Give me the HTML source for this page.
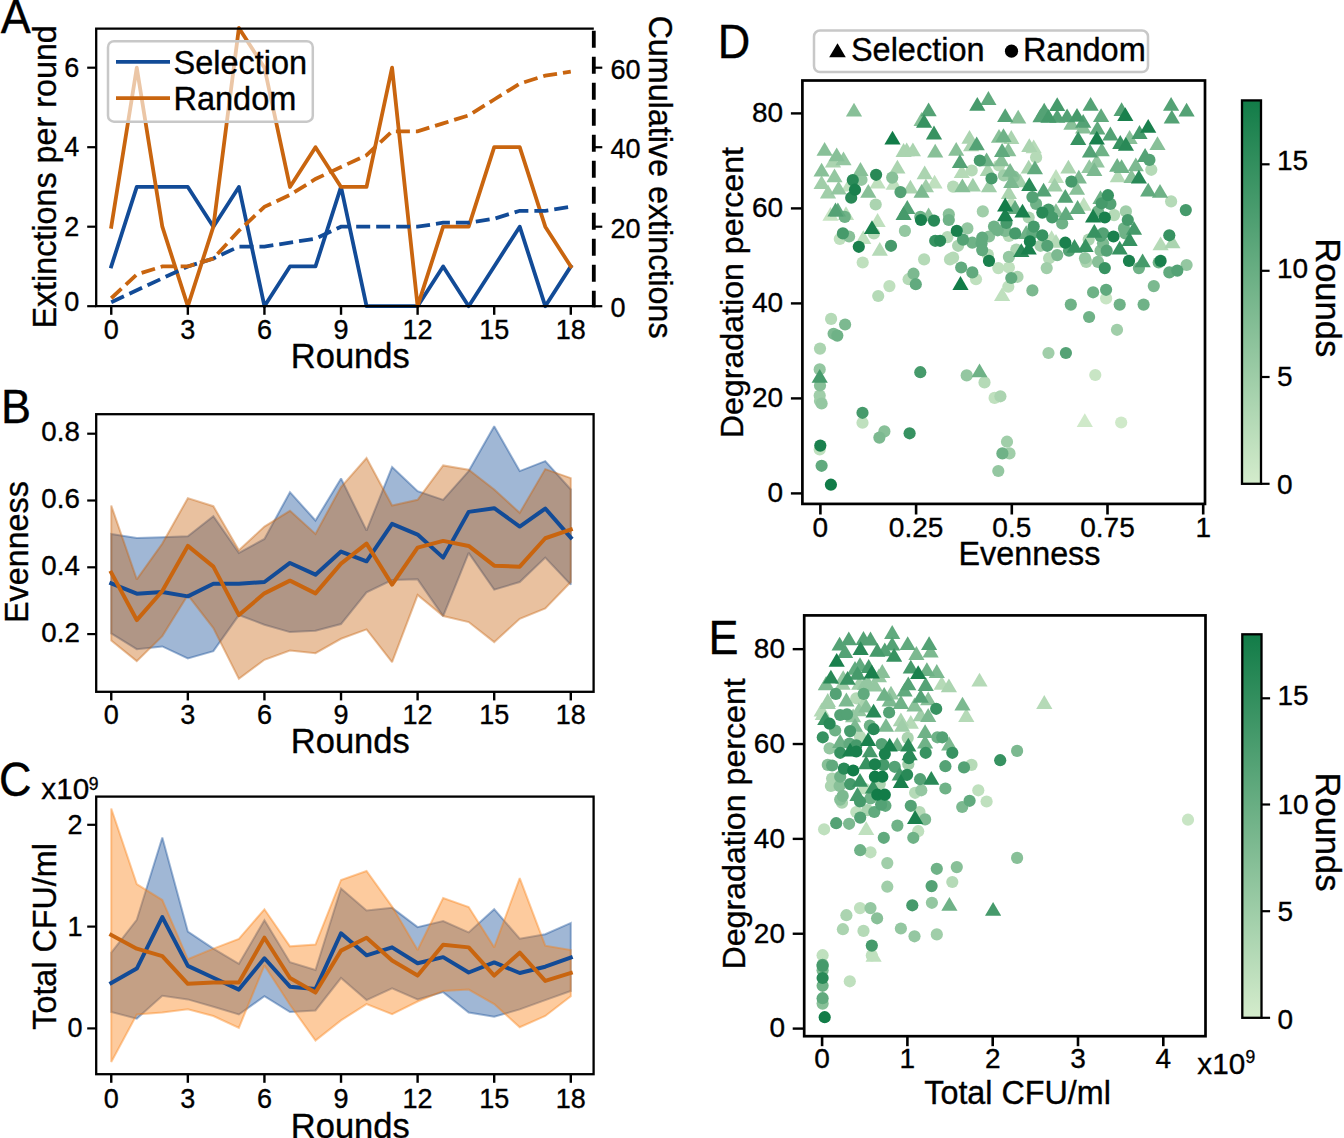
<!DOCTYPE html>
<html><head><meta charset="utf-8"><style>
html,body{margin:0;padding:0;background:#fff;overflow:hidden;}
svg{display:block;}
text{font-family:"Liberation Sans", sans-serif;fill:#000;stroke:#000;stroke-width:0.35px;}
</style></head><body>
<svg width="1344" height="1138" viewBox="0 0 1344 1138">
<rect width="1344" height="1138" fill="#fff"/>
<polyline points="111.25,266.45 136.78,186.95 162.31,186.95 187.84,186.95 213.37,226.70 238.90,186.95 264.43,306.20 289.96,266.45 315.49,266.45 341.02,186.95 366.55,306.20 392.08,306.20 417.61,306.20 443.14,266.45 468.67,306.20 494.20,266.45 519.73,226.70 545.26,306.20 570.79,266.45" fill="none" stroke="#124b97" stroke-width="3.8" stroke-linejoin="round" stroke-linecap="square"/>
<polyline points="111.25,226.70 136.78,67.70 162.31,226.70 187.84,306.20 213.37,226.70 238.90,27.95 264.43,67.70 289.96,186.95 315.49,147.20 341.02,186.95 366.55,186.95 392.08,67.70 417.61,306.20 443.14,226.70 468.67,226.70 494.20,147.20 519.73,147.20 545.26,226.70 570.79,266.45" fill="none" stroke="#c9650f" stroke-width="3.8" stroke-linejoin="round" stroke-linecap="square"/>
<polyline points="111.25,302.22 136.78,290.30 162.31,278.38 187.84,266.45 213.37,258.50 238.90,246.57 264.43,246.57 289.96,242.60 315.49,238.62 341.02,226.70 366.55,226.70 392.08,226.70 417.61,226.70 443.14,222.72 468.67,222.72 494.20,218.75 519.73,210.80 545.26,210.80 570.79,206.82" fill="none" stroke="#124b97" stroke-width="3.8" stroke-dasharray="14 6"/>
<polyline points="111.25,298.25 136.78,274.40 162.31,266.45 187.84,266.45 213.37,258.50 238.90,230.68 264.43,206.82 289.96,194.90 315.49,179.00 341.02,167.07 366.55,155.15 392.08,131.30 417.61,131.30 443.14,123.35 468.67,115.40 494.20,99.50 519.73,83.60 545.26,75.65 570.79,71.67" fill="none" stroke="#c9650f" stroke-width="3.8" stroke-dasharray="14 6"/>
<path d="M96.2,306.2 L96.2,28.7 L593.8,28.7" fill="none" stroke="#000" stroke-width="2.3"/>
<line x1="95.00" y1="306.20" x2="594.80" y2="306.20" stroke="#000" stroke-width="2.3" />
<line x1="593.80" y1="28.70" x2="593.80" y2="307.20" stroke="#000" stroke-width="3.8" stroke-dasharray="17 9" stroke-dashoffset="24"/>
<line x1="87.20" y1="226.70" x2="96.20" y2="226.70" stroke="#000" stroke-width="2.2" />
<text x="79.30" y="235.50" font-size="27" text-anchor="end" >2</text>
<line x1="87.20" y1="147.20" x2="96.20" y2="147.20" stroke="#000" stroke-width="2.2" />
<text x="79.30" y="156.00" font-size="27" text-anchor="end" >4</text>
<line x1="87.20" y1="67.70" x2="96.20" y2="67.70" stroke="#000" stroke-width="2.2" />
<text x="79.30" y="76.50" font-size="27" text-anchor="end" >6</text>
<line x1="87.20" y1="306.20" x2="96.20" y2="306.20" stroke="#000" stroke-width="2.2" />
<text x="79.30" y="311.20" font-size="27" text-anchor="end" >0</text>
<line x1="111.25" y1="306.20" x2="111.25" y2="314.80" stroke="#000" stroke-width="2.4" />
<text x="111.25" y="339.30" font-size="27" text-anchor="middle" >0</text>
<line x1="187.84" y1="306.20" x2="187.84" y2="314.80" stroke="#000" stroke-width="2.4" />
<text x="187.84" y="339.30" font-size="27" text-anchor="middle" >3</text>
<line x1="264.43" y1="306.20" x2="264.43" y2="314.80" stroke="#000" stroke-width="2.4" />
<text x="264.43" y="339.30" font-size="27" text-anchor="middle" >6</text>
<line x1="341.02" y1="306.20" x2="341.02" y2="314.80" stroke="#000" stroke-width="2.4" />
<text x="341.02" y="339.30" font-size="27" text-anchor="middle" >9</text>
<line x1="417.61" y1="306.20" x2="417.61" y2="314.80" stroke="#000" stroke-width="2.4" />
<text x="417.61" y="339.30" font-size="27" text-anchor="middle" >12</text>
<line x1="494.20" y1="306.20" x2="494.20" y2="314.80" stroke="#000" stroke-width="2.4" />
<text x="494.20" y="339.30" font-size="27" text-anchor="middle" >15</text>
<line x1="570.79" y1="306.20" x2="570.79" y2="314.80" stroke="#000" stroke-width="2.4" />
<text x="570.79" y="339.30" font-size="27" text-anchor="middle" >18</text>
<line x1="593.80" y1="306.20" x2="602.30" y2="306.20" stroke="#000" stroke-width="2.2" />
<text x="610.50" y="317.40" font-size="27" text-anchor="start" >0</text>
<line x1="593.80" y1="226.70" x2="602.30" y2="226.70" stroke="#000" stroke-width="2.2" />
<text x="610.50" y="237.90" font-size="27" text-anchor="start" >20</text>
<line x1="593.80" y1="147.20" x2="602.30" y2="147.20" stroke="#000" stroke-width="2.2" />
<text x="610.50" y="158.40" font-size="27" text-anchor="start" >40</text>
<line x1="593.80" y1="67.70" x2="602.30" y2="67.70" stroke="#000" stroke-width="2.2" />
<text x="610.50" y="78.90" font-size="27" text-anchor="start" >60</text>
<text x="350.30" y="368.30" font-size="34.5" text-anchor="middle" >Rounds</text>
<text x="56.40" y="176.90" font-size="32.3" text-anchor="middle" transform="rotate(-90 56.40 176.90)" >Extinctions per round</text>
<text x="649.00" y="177.00" font-size="32.3" text-anchor="middle" transform="rotate(90 649.00 177.00)" >Cumulative extinctions</text>
<rect x="108" y="41.2" width="204.8" height="80.5" rx="6" fill="#fff" fill-opacity="0.63" stroke="#c8c8c8" stroke-width="2.5"/>
<line x1="116.00" y1="61.80" x2="170.00" y2="61.80" stroke="#124b97" stroke-width="3.8" />
<line x1="116.00" y1="98.10" x2="170.00" y2="98.10" stroke="#c9650f" stroke-width="3.8" />
<text x="173.50" y="73.90" font-size="32.5" text-anchor="start" >Selection</text>
<text x="173.50" y="109.90" font-size="32.5" text-anchor="start" >Random</text>
<text x="0" y="0" font-size="45" text-anchor="start" transform="translate(0.70 32.70) scale(1 1.05)">A</text>
<polygon points="111.25,533.90 136.78,537.91 162.31,537.24 187.84,536.24 213.37,516.20 238.90,552.94 264.43,538.91 289.96,492.15 315.49,520.54 341.02,478.46 366.55,530.56 392.08,467.10 417.61,491.15 443.14,499.83 468.67,471.11 494.20,426.35 519.73,471.11 545.26,461.09 570.79,489.48 570.79,584.67 545.26,557.61 519.73,582.00 494.20,589.68 468.67,552.94 443.14,616.06 417.61,579.32 392.08,579.99 366.55,592.35 341.02,624.08 315.49,630.76 289.96,632.10 264.43,624.75 238.90,615.06 213.37,651.13 187.84,658.48 162.31,646.46 136.78,649.13 111.25,633.43" fill="#124b97" fill-opacity="0.4" stroke="#124b97" stroke-opacity="0.4" stroke-width="2.0" stroke-linejoin="miter" stroke-miterlimit="2"/>
<polygon points="111.25,505.51 136.78,579.32 162.31,543.59 187.84,498.16 213.37,506.18 238.90,550.27 264.43,526.55 289.96,510.85 315.49,533.90 341.02,487.14 366.55,458.08 392.08,505.51 417.61,499.83 443.14,465.43 468.67,469.77 494.20,489.48 519.73,512.86 545.26,469.10 570.79,478.12 570.79,582.00 545.26,608.38 519.73,618.74 494.20,642.12 468.67,622.08 443.14,616.06 417.61,595.02 392.08,662.16 366.55,629.42 341.02,638.78 315.49,653.14 289.96,650.47 264.43,659.82 238.90,678.86 213.37,628.09 187.84,595.02 162.31,636.10 136.78,661.15 111.25,640.45" fill="#c9650f" fill-opacity="0.4" stroke="#c9650f" stroke-opacity="0.4" stroke-width="2.0" stroke-linejoin="miter" stroke-miterlimit="2"/>
<polyline points="111.25,583.33 136.78,593.69 162.31,592.02 187.84,596.36 213.37,583.67 238.90,583.67 264.43,582.00 289.96,562.96 315.49,574.65 341.02,551.60 366.55,561.29 392.08,523.88 417.61,534.57 443.14,557.61 468.67,511.86 494.20,508.18 519.73,526.55 545.26,508.52 570.79,537.57" fill="none" stroke="#124b97" stroke-width="4.0" stroke-linejoin="round" stroke-linecap="square"/>
<polyline points="111.25,572.64 136.78,620.07 162.31,591.01 187.84,545.92 213.37,566.63 238.90,615.06 264.43,593.35 289.96,580.66 315.49,593.35 341.02,563.63 366.55,543.59 392.08,584.67 417.61,547.59 443.14,540.91 468.67,545.92 494.20,565.63 519.73,566.63 545.26,538.24 570.79,529.56" fill="none" stroke="#c9650f" stroke-width="4.0" stroke-linejoin="round" stroke-linecap="square"/>
<rect x="96.2" y="414.2" width="497.40000000000003" height="277.59999999999997" fill="none" stroke="#000" stroke-width="2.3"/>
<line x1="87.20" y1="634.10" x2="96.20" y2="634.10" stroke="#000" stroke-width="2.2" />
<text x="79.80" y="641.70" font-size="27.7" text-anchor="end" >0.2</text>
<line x1="87.20" y1="567.30" x2="96.20" y2="567.30" stroke="#000" stroke-width="2.2" />
<text x="79.80" y="574.90" font-size="27.7" text-anchor="end" >0.4</text>
<line x1="87.20" y1="500.50" x2="96.20" y2="500.50" stroke="#000" stroke-width="2.2" />
<text x="79.80" y="508.10" font-size="27.7" text-anchor="end" >0.6</text>
<line x1="87.20" y1="433.70" x2="96.20" y2="433.70" stroke="#000" stroke-width="2.2" />
<text x="79.80" y="441.30" font-size="27.7" text-anchor="end" >0.8</text>
<line x1="111.25" y1="691.80" x2="111.25" y2="700.40" stroke="#000" stroke-width="2.4" />
<text x="111.25" y="724.30" font-size="27" text-anchor="middle" >0</text>
<line x1="187.84" y1="691.80" x2="187.84" y2="700.40" stroke="#000" stroke-width="2.4" />
<text x="187.84" y="724.30" font-size="27" text-anchor="middle" >3</text>
<line x1="264.43" y1="691.80" x2="264.43" y2="700.40" stroke="#000" stroke-width="2.4" />
<text x="264.43" y="724.30" font-size="27" text-anchor="middle" >6</text>
<line x1="341.02" y1="691.80" x2="341.02" y2="700.40" stroke="#000" stroke-width="2.4" />
<text x="341.02" y="724.30" font-size="27" text-anchor="middle" >9</text>
<line x1="417.61" y1="691.80" x2="417.61" y2="700.40" stroke="#000" stroke-width="2.4" />
<text x="417.61" y="724.30" font-size="27" text-anchor="middle" >12</text>
<line x1="494.20" y1="691.80" x2="494.20" y2="700.40" stroke="#000" stroke-width="2.4" />
<text x="494.20" y="724.30" font-size="27" text-anchor="middle" >15</text>
<line x1="570.79" y1="691.80" x2="570.79" y2="700.40" stroke="#000" stroke-width="2.4" />
<text x="570.79" y="724.30" font-size="27" text-anchor="middle" >18</text>
<text x="350.30" y="753.00" font-size="34.5" text-anchor="middle" >Rounds</text>
<text x="28.00" y="552.05" font-size="32.3" text-anchor="middle" transform="rotate(-90 28.00 552.05)" >Evenness</text>
<text x="0" y="0" font-size="45" text-anchor="start" transform="translate(0.90 422.80) scale(1 1.05)">B</text>
<polygon points="111.25,952.66 136.78,919.78 162.31,837.53 187.84,931.59 213.37,948.69 238.90,963.76 264.43,920.29 289.96,962.23 315.49,970.07 341.02,888.43 366.55,910.52 392.08,907.87 417.61,927.11 443.14,921.00 468.67,932.40 494.20,909.19 519.73,938.71 545.26,934.24 570.79,922.94 570.79,990.94 545.26,1000.10 519.73,1009.36 494.20,1016.79 468.67,1012.52 443.14,992.16 417.61,999.39 392.08,988.29 366.55,1000.10 341.02,978.01 315.49,1010.48 289.96,1012.01 264.43,996.23 238.90,1014.45 213.37,1006.72 187.84,999.39 162.31,995.72 136.78,1018.63 111.25,1012.01" fill="#124b97" fill-opacity="0.4" stroke="#124b97" stroke-opacity="0.4" stroke-width="2.0" stroke-linejoin="miter" stroke-miterlimit="2"/>
<polygon points="111.25,808.51 136.78,884.15 162.31,900.03 187.84,959.28 213.37,948.69 238.90,938.82 264.43,909.29 289.96,946.35 315.49,944.52 341.02,879.98 366.55,871.02 392.08,906.55 417.61,950.01 443.14,898.10 468.67,907.05 494.20,947.37 519.73,878.14 545.26,945.64 570.79,950.01 570.79,996.23 545.26,1015.98 519.73,1027.28 494.20,1004.07 468.67,989.61 443.14,990.94 417.61,1001.52 392.08,1014.15 366.55,1004.07 341.02,1020.36 315.49,1040.51 289.96,1004.78 264.43,965.39 238.90,1027.79 213.37,1015.98 187.84,1009.36 162.31,1012.52 136.78,1014.56 111.25,1062.10" fill="#fa7d0c" fill-opacity="0.4" stroke="#fa7d0c" stroke-opacity="0.4" stroke-width="2.0" stroke-linejoin="miter" stroke-miterlimit="2"/>
<polyline points="111.25,983.00 136.78,968.54 162.31,917.13 187.84,965.89 213.37,977.70 238.90,989.61 264.43,958.26 289.96,986.66 315.49,989.11 341.02,933.22 366.55,955.31 392.08,947.37 417.61,963.25 443.14,957.14 468.67,972.51 494.20,962.43 519.73,973.02 545.26,966.71 570.79,957.45" fill="none" stroke="#124b97" stroke-width="4.0" stroke-linejoin="round" stroke-linecap="square"/>
<polyline points="111.25,935.05 136.78,948.69 162.31,956.12 187.84,983.81 213.37,982.49 238.90,982.49 264.43,937.70 289.96,978.01 315.49,992.57 341.02,950.62 366.55,937.70 392.08,960.60 417.61,975.57 443.14,944.82 468.67,947.37 494.20,975.57 519.73,952.66 545.26,980.86 570.79,973.02" fill="none" stroke="#c9650f" stroke-width="4.0" stroke-linejoin="round" stroke-linecap="square"/>
<rect x="96.2" y="796.6" width="497.40000000000003" height="277.6" fill="none" stroke="#000" stroke-width="2.3"/>
<line x1="87.20" y1="1028.40" x2="96.20" y2="1028.40" stroke="#000" stroke-width="2.2" />
<text x="82.50" y="1037.40" font-size="27" text-anchor="end" >0</text>
<line x1="87.20" y1="926.60" x2="96.20" y2="926.60" stroke="#000" stroke-width="2.2" />
<text x="82.50" y="935.60" font-size="27" text-anchor="end" >1</text>
<line x1="87.20" y1="824.80" x2="96.20" y2="824.80" stroke="#000" stroke-width="2.2" />
<text x="82.50" y="833.80" font-size="27" text-anchor="end" >2</text>
<line x1="111.25" y1="1074.20" x2="111.25" y2="1082.80" stroke="#000" stroke-width="2.4" />
<text x="111.25" y="1108.30" font-size="27" text-anchor="middle" >0</text>
<line x1="187.84" y1="1074.20" x2="187.84" y2="1082.80" stroke="#000" stroke-width="2.4" />
<text x="187.84" y="1108.30" font-size="27" text-anchor="middle" >3</text>
<line x1="264.43" y1="1074.20" x2="264.43" y2="1082.80" stroke="#000" stroke-width="2.4" />
<text x="264.43" y="1108.30" font-size="27" text-anchor="middle" >6</text>
<line x1="341.02" y1="1074.20" x2="341.02" y2="1082.80" stroke="#000" stroke-width="2.4" />
<text x="341.02" y="1108.30" font-size="27" text-anchor="middle" >9</text>
<line x1="417.61" y1="1074.20" x2="417.61" y2="1082.80" stroke="#000" stroke-width="2.4" />
<text x="417.61" y="1108.30" font-size="27" text-anchor="middle" >12</text>
<line x1="494.20" y1="1074.20" x2="494.20" y2="1082.80" stroke="#000" stroke-width="2.4" />
<text x="494.20" y="1108.30" font-size="27" text-anchor="middle" >15</text>
<line x1="570.79" y1="1074.20" x2="570.79" y2="1082.80" stroke="#000" stroke-width="2.4" />
<text x="570.79" y="1108.30" font-size="27" text-anchor="middle" >18</text>
<text x="350.30" y="1137.60" font-size="34.5" text-anchor="middle" >Rounds</text>
<text x="56.20" y="936.40" font-size="32.3" text-anchor="middle" transform="rotate(-90 56.20 936.40)" >Total CFU/ml</text>
<text x="0" y="0" font-size="45" text-anchor="start" transform="translate(-1.10 796.40) scale(1 1.05)">C</text>
<text x="41.30" y="798.70" font-size="29.7" text-anchor="start" >x10</text>
<text x="88.80" y="789.70" font-size="17.5" text-anchor="start" >9</text>
<defs><clipPath id="clipD"><rect x="802.4" y="80.5" width="402.6" height="423.4"/></clipPath></defs>
<g clip-path="url(#clipD)">
<path d="M1084.8,413.3L1092.9,427.1L1076.7,427.1Z" fill="#cfe9c9"/>
<circle cx="1121.2" cy="422.5" r="6.1" fill="#cfe9c9"/>
<path d="M830.5,206.9L838.6,220.7L822.4,220.7Z" fill="#c8e5c4"/>
<circle cx="1106.1" cy="298.4" r="6.1" fill="#c8e5c4"/>
<circle cx="1095.3" cy="375.0" r="6.1" fill="#c8e5c4"/>
<path d="M877.6,174.7L885.7,188.5L869.5,188.5Z" fill="#bfe0be"/>
<path d="M849.1,177.8L857.2,191.6L841.0,191.6Z" fill="#bfe0be"/>
<path d="M893.7,176.0L901.8,189.8L885.6,189.8Z" fill="#bfe0be"/>
<path d="M934.6,174.7L942.7,188.5L926.5,188.5Z" fill="#bfe0be"/>
<path d="M846.0,206.3L854.1,220.1L837.9,220.1Z" fill="#bfe0be"/>
<path d="M877.6,213.1L885.7,226.9L869.5,226.9Z" fill="#bfe0be"/>
<path d="M1056.0,169.1L1064.1,182.9L1047.9,182.9Z" fill="#bfe0be"/>
<path d="M1011.3,194.5L1019.4,208.3L1003.2,208.3Z" fill="#bfe0be"/>
<path d="M1083.8,197.0L1091.9,210.8L1075.7,210.8Z" fill="#bfe0be"/>
<circle cx="839.8" cy="239.0" r="6.1" fill="#bfe0be"/>
<path d="M863.3,230.2L871.4,244.0L855.2,244.0Z" fill="#bfe0be"/>
<circle cx="862.7" cy="262.5" r="6.1" fill="#bfe0be"/>
<circle cx="889.4" cy="286.1" r="6.1" fill="#bfe0be"/>
<circle cx="976.0" cy="279.2" r="6.1" fill="#bfe0be"/>
<circle cx="998.3" cy="268.1" r="6.1" fill="#bfe0be"/>
<circle cx="1008.9" cy="267.5" r="6.1" fill="#bfe0be"/>
<circle cx="1008.3" cy="286.7" r="6.1" fill="#bfe0be"/>
<path d="M1002.1,287.2L1010.2,301.0L994.0,301.0Z" fill="#bfe0be"/>
<path d="M1051.6,230.2L1059.7,244.0L1043.5,244.0Z" fill="#bfe0be"/>
<circle cx="862.5" cy="422.7" r="6.1" fill="#bfe0be"/>
<circle cx="819.7" cy="449.4" r="6.1" fill="#bfe0be"/>
<circle cx="994.6" cy="397.9" r="6.1" fill="#bfe0be"/>
<path d="M961.8,164.2L969.9,178.0L953.7,178.0Z" fill="#b5dab7"/>
<circle cx="971.7" cy="170.5" r="6.1" fill="#b5dab7"/>
<circle cx="999.0" cy="165.5" r="6.1" fill="#b5dab7"/>
<path d="M1033.7,139.4L1041.8,153.2L1025.6,153.2Z" fill="#b5dab7"/>
<circle cx="1036.1" cy="157.4" r="6.1" fill="#b5dab7"/>
<circle cx="953.1" cy="186.6" r="6.1" fill="#b5dab7"/>
<circle cx="1151.3" cy="169.8" r="6.1" fill="#b5dab7"/>
<path d="M1117.8,168.5L1125.9,182.3L1109.7,182.3Z" fill="#b5dab7"/>
<circle cx="1171.1" cy="201.4" r="6.1" fill="#b5dab7"/>
<circle cx="1114.1" cy="215.1" r="6.1" fill="#b5dab7"/>
<circle cx="873.9" cy="233.4" r="6.1" fill="#b5dab7"/>
<path d="M879.8,242.0L887.9,255.8L871.7,255.8Z" fill="#b5dab7"/>
<circle cx="924.1" cy="259.4" r="6.1" fill="#b5dab7"/>
<circle cx="908.6" cy="279.2" r="6.1" fill="#b5dab7"/>
<circle cx="878.2" cy="296.0" r="6.1" fill="#b5dab7"/>
<circle cx="831.1" cy="318.9" r="6.1" fill="#b5dab7"/>
<circle cx="947.5" cy="237.1" r="6.1" fill="#b5dab7"/>
<circle cx="987.8" cy="254.5" r="6.1" fill="#b5dab7"/>
<circle cx="953.1" cy="257.6" r="6.1" fill="#b5dab7"/>
<circle cx="950.0" cy="259.4" r="6.1" fill="#b5dab7"/>
<circle cx="1008.9" cy="235.9" r="6.1" fill="#b5dab7"/>
<path d="M1056.0,233.9L1064.1,247.7L1047.9,247.7Z" fill="#b5dab7"/>
<circle cx="1049.1" cy="258.2" r="6.1" fill="#b5dab7"/>
<path d="M1160.6,236.4L1168.7,250.2L1152.5,250.2Z" fill="#b5dab7"/>
<circle cx="984.5" cy="382.4" r="6.1" fill="#b5dab7"/>
<path d="M833.0,153.6L841.1,167.4L824.9,167.4Z" fill="#abd4b0"/>
<circle cx="875.7" cy="204.5" r="6.1" fill="#abd4b0"/>
<path d="M903.6,143.1L911.7,156.9L895.5,156.9Z" fill="#abd4b0"/>
<path d="M906.7,142.5L914.8,156.3L898.6,156.3Z" fill="#abd4b0"/>
<path d="M912.9,142.5L921.0,156.3L904.8,156.3Z" fill="#abd4b0"/>
<path d="M897.4,159.8L905.5,173.6L889.3,173.6Z" fill="#abd4b0"/>
<path d="M910.4,179.7L918.5,193.5L902.3,193.5Z" fill="#abd4b0"/>
<path d="M924.7,165.4L932.8,179.2L916.6,179.2Z" fill="#abd4b0"/>
<path d="M969.5,129.9L977.6,143.7L961.4,143.7Z" fill="#abd4b0"/>
<path d="M971.1,137.5L979.2,151.3L963.0,151.3Z" fill="#abd4b0"/>
<path d="M987.8,162.3L995.9,176.1L979.7,176.1Z" fill="#abd4b0"/>
<path d="M1011.3,130.1L1019.4,143.9L1003.2,143.9Z" fill="#abd4b0"/>
<path d="M1008.9,185.2L1017.0,199.0L1000.8,199.0Z" fill="#abd4b0"/>
<path d="M1029.3,138.2L1037.4,152.0L1021.2,152.0Z" fill="#abd4b0"/>
<path d="M1028.7,159.8L1036.8,173.6L1020.6,173.6Z" fill="#abd4b0"/>
<path d="M1068.4,159.8L1076.5,173.6L1060.3,173.6Z" fill="#abd4b0"/>
<circle cx="1028.7" cy="217.5" r="6.1" fill="#abd4b0"/>
<circle cx="820.0" cy="348.6" r="6.1" fill="#abd4b0"/>
<circle cx="958.1" cy="245.8" r="6.1" fill="#abd4b0"/>
<circle cx="1016.3" cy="249.5" r="6.1" fill="#abd4b0"/>
<circle cx="1017.5" cy="276.8" r="6.1" fill="#abd4b0"/>
<circle cx="1088.7" cy="239.6" r="6.1" fill="#abd4b0"/>
<circle cx="1086.3" cy="261.9" r="6.1" fill="#abd4b0"/>
<path d="M1172.4,234.5L1180.5,248.3L1164.3,248.3Z" fill="#abd4b0"/>
<circle cx="1000.4" cy="396.3" r="6.1" fill="#abd4b0"/>
<path d="M821.6,175.3L829.7,189.1L813.5,189.1Z" fill="#a0cea9"/>
<path d="M828.0,184.6L836.1,198.4L819.9,198.4Z" fill="#a0cea9"/>
<path d="M925.9,178.4L934.0,192.2L917.8,192.2Z" fill="#a0cea9"/>
<circle cx="1003.9" cy="175.4" r="6.1" fill="#a0cea9"/>
<path d="M1020.0,173.5L1028.1,187.3L1011.9,187.3Z" fill="#a0cea9"/>
<path d="M972.9,177.8L981.0,191.6L964.8,191.6Z" fill="#a0cea9"/>
<path d="M989.0,178.4L997.1,192.2L980.9,192.2Z" fill="#a0cea9"/>
<path d="M1054.7,177.8L1062.8,191.6L1046.6,191.6Z" fill="#a0cea9"/>
<circle cx="982.8" cy="211.4" r="6.1" fill="#a0cea9"/>
<circle cx="1125.9" cy="211.4" r="6.1" fill="#a0cea9"/>
<circle cx="1040.5" cy="245.8" r="6.1" fill="#a0cea9"/>
<circle cx="1046.7" cy="268.1" r="6.1" fill="#a0cea9"/>
<circle cx="1048.5" cy="353.0" r="6.1" fill="#a0cea9"/>
<circle cx="1117.0" cy="329.8" r="6.1" fill="#a0cea9"/>
<circle cx="819.7" cy="395.5" r="6.1" fill="#a0cea9"/>
<circle cx="820.0" cy="401.0" r="6.1" fill="#a0cea9"/>
<circle cx="1007.0" cy="441.7" r="6.1" fill="#a0cea9"/>
<circle cx="1009.5" cy="453.4" r="6.1" fill="#a0cea9"/>
<path d="M843.5,151.4L851.6,165.2L835.4,165.2Z" fill="#94c7a1"/>
<path d="M834.5,168.5L842.6,182.3L826.4,182.3Z" fill="#94c7a1"/>
<path d="M838.6,180.7L846.7,194.5L830.5,194.5Z" fill="#94c7a1"/>
<circle cx="861.5" cy="179.8" r="6.1" fill="#94c7a1"/>
<path d="M1096.8,153.6L1104.9,167.4L1088.7,167.4Z" fill="#94c7a1"/>
<path d="M1089.3,159.2L1097.4,173.0L1081.2,173.0Z" fill="#94c7a1"/>
<circle cx="904.9" cy="230.9" r="6.1" fill="#94c7a1"/>
<circle cx="967.4" cy="228.4" r="6.1" fill="#94c7a1"/>
<circle cx="1008.9" cy="256.9" r="6.1" fill="#94c7a1"/>
<circle cx="1085.0" cy="258.2" r="6.1" fill="#94c7a1"/>
<circle cx="1186.6" cy="265.0" r="6.1" fill="#94c7a1"/>
<circle cx="819.7" cy="369.4" r="6.1" fill="#94c7a1"/>
<circle cx="821.6" cy="403.5" r="6.1" fill="#94c7a1"/>
<circle cx="966.7" cy="375.4" r="6.1" fill="#94c7a1"/>
<circle cx="998.3" cy="471.0" r="6.1" fill="#94c7a1"/>
<path d="M854.0,102.8L862.1,116.6L845.9,116.6Z" fill="#88c098"/>
<path d="M921.6,112.1L929.7,125.9L913.5,125.9Z" fill="#88c098"/>
<path d="M935.2,143.7L943.3,157.5L927.1,157.5Z" fill="#88c098"/>
<path d="M824.6,141.9L832.7,155.7L816.5,155.7Z" fill="#88c098"/>
<path d="M836.7,147.4L844.8,161.2L828.6,161.2Z" fill="#88c098"/>
<path d="M821.6,162.8L829.7,176.6L813.5,176.6Z" fill="#88c098"/>
<path d="M860.5,162.1L868.6,175.9L852.4,175.9Z" fill="#88c098"/>
<circle cx="892.2" cy="177.6" r="6.1" fill="#88c098"/>
<path d="M868.3,184.0L876.4,197.8L860.2,197.8Z" fill="#88c098"/>
<path d="M928.6,207.5L936.7,221.3L920.5,221.3Z" fill="#88c098"/>
<path d="M1018.2,109.7L1026.3,123.5L1010.1,123.5Z" fill="#88c098"/>
<path d="M1071.4,115.9L1079.5,129.7L1063.3,129.7Z" fill="#88c098"/>
<path d="M956.2,141.9L964.3,155.7L948.1,155.7Z" fill="#88c098"/>
<path d="M999.0,128.9L1007.1,142.7L990.9,142.7Z" fill="#88c098"/>
<path d="M1008.3,142.5L1016.4,156.3L1000.2,156.3Z" fill="#88c098"/>
<path d="M1001.4,152.4L1009.5,166.2L993.3,166.2Z" fill="#88c098"/>
<circle cx="1013.8" cy="176.7" r="6.1" fill="#88c098"/>
<path d="M962.4,178.4L970.5,192.2L954.3,192.2Z" fill="#88c098"/>
<path d="M1056.0,203.2L1064.1,217.0L1047.9,217.0Z" fill="#88c098"/>
<circle cx="948.8" cy="214.4" r="6.1" fill="#88c098"/>
<path d="M1083.2,119.6L1091.3,133.4L1075.1,133.4Z" fill="#88c098"/>
<path d="M1129.6,130.1L1137.7,143.9L1121.5,143.9Z" fill="#88c098"/>
<path d="M1157.5,136.3L1165.6,150.1L1149.4,150.1Z" fill="#88c098"/>
<path d="M1077.0,180.9L1085.1,194.7L1068.9,194.7Z" fill="#88c098"/>
<path d="M1131.5,169.1L1139.6,182.9L1123.4,182.9Z" fill="#88c098"/>
<circle cx="849.1" cy="236.5" r="6.1" fill="#88c098"/>
<circle cx="989.0" cy="236.5" r="6.1" fill="#88c098"/>
<circle cx="1100.5" cy="250.7" r="6.1" fill="#88c098"/>
<circle cx="1098.0" cy="261.9" r="6.1" fill="#88c098"/>
<circle cx="820.0" cy="385.5" r="6.1" fill="#88c098"/>
<circle cx="884.4" cy="431.4" r="6.1" fill="#88c098"/>
<path d="M921.6,184.0L929.7,197.8L913.5,197.8Z" fill="#7cb990"/>
<path d="M1010.1,162.9L1018.2,176.7L1002.0,176.7Z" fill="#7cb990"/>
<path d="M1011.3,174.1L1019.4,187.9L1003.2,187.9Z" fill="#7cb990"/>
<path d="M1094.3,162.3L1102.4,176.1L1086.2,176.1Z" fill="#7cb990"/>
<path d="M1078.8,169.8L1086.9,183.6L1070.7,183.6Z" fill="#7cb990"/>
<path d="M1135.8,157.4L1143.9,171.2L1127.7,171.2Z" fill="#7cb990"/>
<circle cx="913.5" cy="273.7" r="6.1" fill="#7cb990"/>
<circle cx="845.1" cy="324.5" r="6.1" fill="#7cb990"/>
<circle cx="833.6" cy="333.8" r="6.1" fill="#7cb990"/>
<circle cx="1005.2" cy="230.9" r="6.1" fill="#7cb990"/>
<circle cx="1032.4" cy="290.4" r="6.1" fill="#7cb990"/>
<circle cx="1057.2" cy="255.1" r="6.1" fill="#7cb990"/>
<circle cx="1103.0" cy="243.3" r="6.1" fill="#7cb990"/>
<circle cx="1153.8" cy="286.1" r="6.1" fill="#7cb990"/>
<circle cx="879.4" cy="437.6" r="6.1" fill="#7cb990"/>
<circle cx="844.8" cy="216.9" r="6.1" fill="#6fb287"/>
<circle cx="920.3" cy="216.9" r="6.1" fill="#6fb287"/>
<path d="M986.6,152.4L994.7,166.2L978.5,166.2Z" fill="#6fb287"/>
<path d="M1003.5,128.2L1011.6,142.0L995.4,142.0Z" fill="#6fb287"/>
<circle cx="1036.1" cy="203.9" r="6.1" fill="#6fb287"/>
<circle cx="948.8" cy="220.0" r="6.1" fill="#6fb287"/>
<path d="M1101.7,142.5L1109.8,156.3L1093.6,156.3Z" fill="#6fb287"/>
<path d="M1117.2,158.0L1125.3,171.8L1109.1,171.8Z" fill="#6fb287"/>
<path d="M1121.6,159.2L1129.7,173.0L1113.5,173.0Z" fill="#6fb287"/>
<path d="M1160.0,184.0L1168.1,197.8L1151.9,197.8Z" fill="#6fb287"/>
<path d="M1100.5,190.2L1108.6,204.0L1092.4,204.0Z" fill="#6fb287"/>
<circle cx="1098.0" cy="211.4" r="6.1" fill="#6fb287"/>
<circle cx="837.3" cy="335.6" r="6.1" fill="#6fb287"/>
<circle cx="972.3" cy="242.7" r="6.1" fill="#6fb287"/>
<circle cx="994.0" cy="226.6" r="6.1" fill="#6fb287"/>
<circle cx="997.7" cy="230.3" r="6.1" fill="#6fb287"/>
<path d="M1026.2,225.3L1034.3,239.1L1018.1,239.1Z" fill="#6fb287"/>
<circle cx="1062.2" cy="223.5" r="6.1" fill="#6fb287"/>
<circle cx="1070.8" cy="304.6" r="6.1" fill="#6fb287"/>
<circle cx="1124.0" cy="228.4" r="6.1" fill="#6fb287"/>
<circle cx="1125.3" cy="233.4" r="6.1" fill="#6fb287"/>
<circle cx="1138.9" cy="268.1" r="6.1" fill="#6fb287"/>
<circle cx="1158.7" cy="262.5" r="6.1" fill="#6fb287"/>
<circle cx="1093.1" cy="292.3" r="6.1" fill="#6fb287"/>
<circle cx="1119.7" cy="304.6" r="6.1" fill="#6fb287"/>
<circle cx="1143.6" cy="304.6" r="6.1" fill="#6fb287"/>
<circle cx="1089.1" cy="317.0" r="6.1" fill="#6fb287"/>
<path d="M979.5,363.5L987.6,377.3L971.4,377.3Z" fill="#6fb287"/>
<circle cx="1002.4" cy="453.4" r="6.1" fill="#6fb287"/>
<path d="M837.9,202.6L846.0,216.4L829.8,216.4Z" fill="#61aa7e"/>
<path d="M988.4,91.1L996.5,104.9L980.3,104.9Z" fill="#61aa7e"/>
<path d="M1002.1,143.1L1010.2,156.9L994.0,156.9Z" fill="#61aa7e"/>
<path d="M1034.9,160.5L1043.0,174.3L1026.8,174.3Z" fill="#61aa7e"/>
<path d="M1015.1,200.1L1023.2,213.9L1007.0,213.9Z" fill="#61aa7e"/>
<path d="M1065.9,206.3L1074.0,220.1L1057.8,220.1Z" fill="#61aa7e"/>
<path d="M1101.1,108.2L1109.2,122.0L1093.0,122.0Z" fill="#61aa7e"/>
<path d="M1097.4,120.8L1105.5,134.6L1089.3,134.6Z" fill="#61aa7e"/>
<path d="M1148.2,182.8L1156.3,196.6L1140.1,196.6Z" fill="#61aa7e"/>
<path d="M1077.6,200.1L1085.7,213.9L1069.5,213.9Z" fill="#61aa7e"/>
<circle cx="915.8" cy="284.2" r="6.1" fill="#61aa7e"/>
<circle cx="982.2" cy="237.7" r="6.1" fill="#61aa7e"/>
<circle cx="981.6" cy="243.3" r="6.1" fill="#61aa7e"/>
<circle cx="982.2" cy="250.1" r="6.1" fill="#61aa7e"/>
<circle cx="961.2" cy="267.5" r="6.1" fill="#61aa7e"/>
<circle cx="972.3" cy="272.4" r="6.1" fill="#61aa7e"/>
<circle cx="1032.4" cy="233.4" r="6.1" fill="#61aa7e"/>
<circle cx="1011.3" cy="278.0" r="6.1" fill="#61aa7e"/>
<circle cx="1169.3" cy="272.4" r="6.1" fill="#61aa7e"/>
<circle cx="1106.1" cy="289.8" r="6.1" fill="#61aa7e"/>
<circle cx="821.6" cy="465.8" r="6.1" fill="#61aa7e"/>
<path d="M928.6,102.5L936.7,116.3L920.5,116.3Z" fill="#54a275"/>
<circle cx="900.5" cy="192.1" r="6.1" fill="#54a275"/>
<path d="M907.3,200.1L915.4,213.9L899.2,213.9Z" fill="#54a275"/>
<path d="M835.5,202.6L843.6,216.4L827.4,216.4Z" fill="#54a275"/>
<path d="M1005.2,108.3L1013.3,122.1L997.1,122.1Z" fill="#54a275"/>
<path d="M1040.5,108.4L1048.6,122.2L1032.4,122.2Z" fill="#54a275"/>
<path d="M1044.2,102.8L1052.3,116.6L1036.1,116.6Z" fill="#54a275"/>
<path d="M1057.2,109.0L1065.3,122.8L1049.1,122.8Z" fill="#54a275"/>
<path d="M1067.1,108.4L1075.2,122.2L1059.0,122.2Z" fill="#54a275"/>
<path d="M976.7,136.5L984.8,150.3L968.6,150.3Z" fill="#54a275"/>
<path d="M959.9,154.3L968.0,168.1L951.8,168.1Z" fill="#54a275"/>
<path d="M1043.6,182.8L1051.7,196.6L1035.5,196.6Z" fill="#54a275"/>
<path d="M1065.3,189.0L1073.4,202.8L1057.2,202.8Z" fill="#54a275"/>
<circle cx="1032.4" cy="197.1" r="6.1" fill="#54a275"/>
<path d="M1090.6,97.0L1098.7,110.8L1082.5,110.8Z" fill="#54a275"/>
<path d="M1083.2,114.0L1091.3,127.8L1075.1,127.8Z" fill="#54a275"/>
<path d="M1121.6,102.2L1129.7,116.0L1113.5,116.0Z" fill="#54a275"/>
<path d="M1171.1,97.0L1179.2,110.8L1163.0,110.8Z" fill="#54a275"/>
<path d="M1186.6,102.8L1194.7,116.6L1178.5,116.6Z" fill="#54a275"/>
<path d="M1171.8,109.7L1179.9,123.5L1163.7,123.5Z" fill="#54a275"/>
<path d="M1110.4,126.6L1118.5,140.4L1102.3,140.4Z" fill="#54a275"/>
<path d="M1090.0,143.7L1098.1,157.5L1081.9,157.5Z" fill="#54a275"/>
<path d="M1145.1,148.1L1153.2,161.9L1137.0,161.9Z" fill="#54a275"/>
<circle cx="1149.4" cy="159.9" r="6.1" fill="#54a275"/>
<circle cx="1110.4" cy="203.9" r="6.1" fill="#54a275"/>
<circle cx="963.0" cy="239.6" r="6.1" fill="#54a275"/>
<circle cx="1047.3" cy="245.8" r="6.1" fill="#54a275"/>
<circle cx="1069.0" cy="250.7" r="6.1" fill="#54a275"/>
<circle cx="1065.9" cy="353.0" r="6.1" fill="#54a275"/>
<circle cx="1103.0" cy="233.4" r="6.1" fill="#54a275"/>
<circle cx="1100.5" cy="235.9" r="6.1" fill="#54a275"/>
<circle cx="1106.7" cy="250.7" r="6.1" fill="#54a275"/>
<circle cx="1177.3" cy="270.6" r="6.1" fill="#54a275"/>
<path d="M903.6,206.3L911.7,220.1L895.5,220.1Z" fill="#469a6b"/>
<path d="M977.3,96.9L985.4,110.7L969.2,110.7Z" fill="#469a6b"/>
<path d="M1048.5,109.0L1056.6,122.8L1040.4,122.8Z" fill="#469a6b"/>
<path d="M1057.2,97.3L1065.3,111.1L1049.1,111.1Z" fill="#469a6b"/>
<circle cx="979.8" cy="160.5" r="6.1" fill="#469a6b"/>
<circle cx="991.5" cy="178.5" r="6.1" fill="#469a6b"/>
<circle cx="1071.4" cy="181.6" r="6.1" fill="#469a6b"/>
<circle cx="1048.5" cy="209.5" r="6.1" fill="#469a6b"/>
<circle cx="1052.2" cy="217.5" r="6.1" fill="#469a6b"/>
<path d="M1077.0,108.0L1085.1,121.8L1068.9,121.8Z" fill="#469a6b"/>
<path d="M1139.5,125.1L1147.6,138.9L1131.4,138.9Z" fill="#469a6b"/>
<circle cx="1185.8" cy="210.1" r="6.1" fill="#469a6b"/>
<circle cx="1101.7" cy="203.3" r="6.1" fill="#469a6b"/>
<circle cx="1127.8" cy="220.0" r="6.1" fill="#469a6b"/>
<circle cx="842.9" cy="233.4" r="6.1" fill="#469a6b"/>
<circle cx="891.0" cy="245.8" r="6.1" fill="#469a6b"/>
<circle cx="1006.4" cy="222.9" r="6.1" fill="#469a6b"/>
<circle cx="1015.1" cy="233.4" r="6.1" fill="#469a6b"/>
<circle cx="1033.7" cy="226.6" r="6.1" fill="#469a6b"/>
<path d="M1134.0,220.9L1142.1,234.7L1125.9,234.7Z" fill="#469a6b"/>
<path d="M1142.6,253.5L1150.7,267.3L1134.5,267.3Z" fill="#469a6b"/>
<path d="M819.7,369.0L827.8,382.8L811.6,382.8Z" fill="#469a6b"/>
<circle cx="862.5" cy="412.8" r="6.1" fill="#469a6b"/>
<circle cx="920.3" cy="372.2" r="6.1" fill="#469a6b"/>
<path d="M924.1,114.0L932.2,127.8L916.0,127.8Z" fill="#379261"/>
<path d="M934.0,125.6L942.1,139.4L925.9,139.4Z" fill="#379261"/>
<path d="M1078.2,131.3L1086.3,145.1L1070.1,145.1Z" fill="#379261"/>
<path d="M1120.3,135.1L1128.4,148.9L1112.2,148.9Z" fill="#379261"/>
<circle cx="1107.9" cy="195.2" r="6.1" fill="#379261"/>
<circle cx="935.2" cy="240.8" r="6.1" fill="#379261"/>
<circle cx="1042.3" cy="235.3" r="6.1" fill="#379261"/>
<path d="M1094.3,224.0L1102.4,237.8L1086.2,237.8Z" fill="#379261"/>
<path d="M1085.6,238.3L1093.7,252.1L1077.5,252.1Z" fill="#379261"/>
<path d="M1074.5,238.9L1082.6,252.7L1066.4,252.7Z" fill="#379261"/>
<path d="M1129.6,232.1L1137.7,245.9L1121.5,245.9Z" fill="#379261"/>
<path d="M1119.7,240.7L1127.8,254.5L1111.6,254.5Z" fill="#379261"/>
<circle cx="1104.8" cy="268.1" r="6.1" fill="#379261"/>
<circle cx="1169.3" cy="235.3" r="6.1" fill="#379261"/>
<circle cx="909.6" cy="433.3" r="6.1" fill="#379261"/>
<circle cx="852.8" cy="180.1" r="6.1" fill="#298957"/>
<circle cx="851.2" cy="197.7" r="6.1" fill="#298957"/>
<circle cx="876.1" cy="174.8" r="6.1" fill="#298957"/>
<circle cx="934.0" cy="220.6" r="6.1" fill="#298957"/>
<path d="M1029.3,177.2L1037.4,191.0L1021.2,191.0Z" fill="#298957"/>
<circle cx="1042.3" cy="212.6" r="6.1" fill="#298957"/>
<path d="M1125.9,136.9L1134.0,150.7L1117.8,150.7Z" fill="#298957"/>
<path d="M1138.9,169.8L1147.0,183.6L1130.8,183.6Z" fill="#298957"/>
<circle cx="940.1" cy="240.8" r="6.1" fill="#298957"/>
<path d="M1021.3,243.2L1029.4,257.0L1013.2,257.0Z" fill="#298957"/>
<circle cx="855.0" cy="189.7" r="6.1" fill="#1a804d"/>
<circle cx="921.0" cy="220.0" r="6.1" fill="#1a804d"/>
<path d="M1022.5,203.8L1030.6,217.6L1014.4,217.6Z" fill="#1a804d"/>
<path d="M1005.2,207.5L1013.3,221.3L997.1,221.3Z" fill="#1a804d"/>
<path d="M1125.3,107.2L1133.4,121.0L1117.2,121.0Z" fill="#1a804d"/>
<path d="M1096.8,130.7L1104.9,144.5L1088.7,144.5Z" fill="#1a804d"/>
<path d="M1148.2,118.9L1156.3,132.7L1140.1,132.7Z" fill="#1a804d"/>
<path d="M1093.1,208.8L1101.2,222.6L1085.0,222.6Z" fill="#1a804d"/>
<circle cx="1104.8" cy="217.5" r="6.1" fill="#1a804d"/>
<path d="M872.0,220.3L880.1,234.1L863.9,234.1Z" fill="#1a804d"/>
<circle cx="858.8" cy="246.8" r="6.1" fill="#1a804d"/>
<circle cx="956.8" cy="230.9" r="6.1" fill="#1a804d"/>
<circle cx="989.0" cy="260.9" r="6.1" fill="#1a804d"/>
<circle cx="1029.9" cy="241.4" r="6.1" fill="#1a804d"/>
<path d="M1028.7,240.7L1036.8,254.5L1020.6,254.5Z" fill="#1a804d"/>
<circle cx="1065.3" cy="242.7" r="6.1" fill="#1a804d"/>
<circle cx="1113.5" cy="236.5" r="6.1" fill="#1a804d"/>
<circle cx="1129.0" cy="260.9" r="6.1" fill="#1a804d"/>
<circle cx="1160.6" cy="260.9" r="6.1" fill="#1a804d"/>
<circle cx="820.3" cy="445.6" r="6.1" fill="#1a804d"/>
<path d="M892.5,130.8L900.6,144.6L884.4,144.6Z" fill="#127c48"/>
<path d="M1005.2,197.6L1013.3,211.4L997.1,211.4Z" fill="#127c48"/>
<path d="M960.5,276.1L968.6,289.9L952.4,289.9Z" fill="#127c48"/>
<circle cx="830.9" cy="484.7" r="6.1" fill="#127c48"/>
</g>
<rect x="802.4" y="80.5" width="402.6" height="423.4" fill="none" stroke="#000" stroke-width="2.7"/>
<line x1="790.90" y1="493.40" x2="802.40" y2="493.40" stroke="#000" stroke-width="2.4" />
<text x="783.20" y="502.20" font-size="28" text-anchor="end" >0</text>
<line x1="790.90" y1="398.40" x2="802.40" y2="398.40" stroke="#000" stroke-width="2.4" />
<text x="783.20" y="407.20" font-size="28" text-anchor="end" >20</text>
<line x1="790.90" y1="303.40" x2="802.40" y2="303.40" stroke="#000" stroke-width="2.4" />
<text x="783.20" y="312.20" font-size="28" text-anchor="end" >40</text>
<line x1="790.90" y1="208.40" x2="802.40" y2="208.40" stroke="#000" stroke-width="2.4" />
<text x="783.20" y="217.20" font-size="28" text-anchor="end" >60</text>
<line x1="790.90" y1="113.40" x2="802.40" y2="113.40" stroke="#000" stroke-width="2.4" />
<text x="783.20" y="122.20" font-size="28" text-anchor="end" >80</text>
<line x1="820.40" y1="503.90" x2="820.40" y2="514.50" stroke="#000" stroke-width="2.6" />
<text x="820.40" y="537.40" font-size="28" text-anchor="middle" >0</text>
<line x1="916.10" y1="503.90" x2="916.10" y2="514.50" stroke="#000" stroke-width="2.6" />
<text x="916.10" y="537.40" font-size="28" text-anchor="middle" >0.25</text>
<line x1="1011.80" y1="503.90" x2="1011.80" y2="514.50" stroke="#000" stroke-width="2.6" />
<text x="1011.80" y="537.40" font-size="28" text-anchor="middle" >0.5</text>
<line x1="1107.50" y1="503.90" x2="1107.50" y2="514.50" stroke="#000" stroke-width="2.6" />
<text x="1107.50" y="537.40" font-size="28" text-anchor="middle" >0.75</text>
<line x1="1203.20" y1="503.90" x2="1203.20" y2="514.50" stroke="#000" stroke-width="2.6" />
<text x="1203.20" y="537.40" font-size="28" text-anchor="middle" >1</text>
<text x="1029.50" y="564.50" font-size="32.3" text-anchor="middle" >Evenness</text>
<text x="743.10" y="292.60" font-size="32.15" text-anchor="middle" transform="rotate(-90 743.10 292.60)" >Degradation percent</text>
<defs><linearGradient id="gD" x1="0" y1="1" x2="0" y2="0"><stop offset="0" stop-color="#d4eccc"/><stop offset="1" stop-color="#127c48"/></linearGradient></defs>
<rect x="1242" y="100.4" width="19" height="383.4" fill="url(#gD)" stroke="#000" stroke-width="2.3"/>
<line x1="1261.00" y1="483.80" x2="1269.60" y2="483.80" stroke="#000" stroke-width="2.2" />
<text x="1277.00" y="494.45" font-size="28" text-anchor="start" >0</text>
<line x1="1261.00" y1="377.00" x2="1269.60" y2="377.00" stroke="#000" stroke-width="2.2" />
<text x="1277.00" y="386.30" font-size="28" text-anchor="start" >5</text>
<line x1="1261.00" y1="270.80" x2="1269.60" y2="270.80" stroke="#000" stroke-width="2.2" />
<text x="1277.00" y="278.20" font-size="28" text-anchor="start" >10</text>
<line x1="1261.00" y1="164.30" x2="1269.60" y2="164.30" stroke="#000" stroke-width="2.2" />
<text x="1277.00" y="170.00" font-size="28" text-anchor="start" >15</text>
<text x="1316.00" y="297.70" font-size="34.5" text-anchor="middle" transform="rotate(90 1316.00 297.70)" >Rounds</text>
<rect x="814" y="30.5" width="334" height="41.6" rx="6" fill="#fff" fill-opacity="0.63" stroke="#c8c8c8" stroke-width="2.5"/>
<path d="M837.5,43.2L845.8,57.3L829.2,57.3Z" fill="#000"/>
<text x="850.90" y="61.00" font-size="32.5" text-anchor="start" >Selection</text>
<circle cx="1011.5" cy="51.2" r="6.6" fill="#000"/>
<text x="1022.90" y="61.00" font-size="32.5" text-anchor="start" >Random</text>
<text x="0" y="0" font-size="45" text-anchor="start" transform="translate(717.70 57.80) scale(1 1.05)">D</text>
<defs><clipPath id="clipE"><rect x="804.2" y="615.4" width="401.29999999999995" height="420.80000000000007"/></clipPath></defs>
<g clip-path="url(#clipE)">
<circle cx="1188.0" cy="819.7" r="6.1" fill="#c8e5c4"/>
<circle cx="864.3" cy="788.5" r="6.1" fill="#bfe0be"/>
<circle cx="856.3" cy="812.0" r="6.1" fill="#bfe0be"/>
<circle cx="824.1" cy="829.3" r="6.1" fill="#bfe0be"/>
<path d="M866.2,821.2L874.3,835.0L858.1,835.0Z" fill="#bfe0be"/>
<circle cx="918.2" cy="831.2" r="6.1" fill="#bfe0be"/>
<circle cx="870.5" cy="852.3" r="6.1" fill="#bfe0be"/>
<circle cx="978.3" cy="790.3" r="6.1" fill="#bfe0be"/>
<circle cx="986.6" cy="801.5" r="6.1" fill="#bfe0be"/>
<circle cx="860.0" cy="908.1" r="6.1" fill="#bfe0be"/>
<circle cx="871.8" cy="955.5" r="6.1" fill="#bfe0be"/>
<path d="M873.6,948.0L881.7,961.8L865.5,961.8Z" fill="#bfe0be"/>
<circle cx="822.6" cy="955.2" r="6.1" fill="#bfe0be"/>
<circle cx="849.8" cy="981.3" r="6.1" fill="#bfe0be"/>
<circle cx="856.3" cy="698.3" r="6.1" fill="#b5dab7"/>
<path d="M822.8,706.2L830.9,720.0L814.7,720.0Z" fill="#b5dab7"/>
<path d="M910.8,714.9L918.9,728.7L902.7,728.7Z" fill="#b5dab7"/>
<circle cx="860.0" cy="736.7" r="6.1" fill="#b5dab7"/>
<path d="M821.7,702.6L829.8,716.4L813.6,716.4Z" fill="#b5dab7"/>
<path d="M941.7,675.9L949.8,689.7L933.6,689.7Z" fill="#b5dab7"/>
<path d="M979.5,672.8L987.6,686.6L971.4,686.6Z" fill="#b5dab7"/>
<path d="M1044.3,695.1L1052.4,708.9L1036.2,708.9Z" fill="#b5dab7"/>
<path d="M966.3,708.1L974.4,721.9L958.2,721.9Z" fill="#b5dab7"/>
<circle cx="915.1" cy="792.8" r="6.1" fill="#b5dab7"/>
<circle cx="919.5" cy="812.0" r="6.1" fill="#b5dab7"/>
<circle cx="971.5" cy="764.9" r="6.1" fill="#b5dab7"/>
<circle cx="952.3" cy="882.0" r="6.1" fill="#b5dab7"/>
<circle cx="863.5" cy="930.9" r="6.1" fill="#b5dab7"/>
<path d="M900.9,712.4L909.0,726.2L892.8,726.2Z" fill="#abd4b0"/>
<circle cx="907.7" cy="737.9" r="6.1" fill="#abd4b0"/>
<path d="M863.5,696.2L871.6,710.0L855.4,710.0Z" fill="#abd4b0"/>
<path d="M948.9,678.4L957.0,692.2L940.8,692.2Z" fill="#abd4b0"/>
<circle cx="832.1" cy="778.5" r="6.1" fill="#abd4b0"/>
<circle cx="830.9" cy="786.0" r="6.1" fill="#abd4b0"/>
<circle cx="879.8" cy="784.1" r="6.1" fill="#abd4b0"/>
<circle cx="842.0" cy="802.7" r="6.1" fill="#abd4b0"/>
<circle cx="867.4" cy="810.1" r="6.1" fill="#abd4b0"/>
<circle cx="846.4" cy="915.2" r="6.1" fill="#abd4b0"/>
<circle cx="842.9" cy="929.2" r="6.1" fill="#abd4b0"/>
<path d="M827.8,695.1L835.9,708.9L819.7,708.9Z" fill="#a0cea9"/>
<path d="M902.1,718.0L910.2,731.8L894.0,731.8Z" fill="#a0cea9"/>
<path d="M920.7,707.5L928.8,721.3L912.6,721.3Z" fill="#a0cea9"/>
<path d="M842.6,675.9L850.7,689.7L834.5,689.7Z" fill="#a0cea9"/>
<path d="M859.2,675.9L867.3,689.7L851.1,689.7Z" fill="#a0cea9"/>
<path d="M827.8,693.1L835.9,706.9L819.7,706.9Z" fill="#a0cea9"/>
<circle cx="908.3" cy="764.3" r="6.1" fill="#a0cea9"/>
<circle cx="887.3" cy="863.1" r="6.1" fill="#a0cea9"/>
<circle cx="887.3" cy="886.7" r="6.1" fill="#a0cea9"/>
<circle cx="936.8" cy="934.4" r="6.1" fill="#a0cea9"/>
<path d="M865.0,675.9L873.1,689.7L856.9,689.7Z" fill="#94c7a1"/>
<path d="M874.9,677.7L883.0,691.5L866.8,691.5Z" fill="#94c7a1"/>
<path d="M891.0,685.8L899.1,699.6L882.9,699.6Z" fill="#94c7a1"/>
<path d="M858.8,702.5L866.9,716.3L850.7,716.3Z" fill="#94c7a1"/>
<circle cx="829.6" cy="748.4" r="6.1" fill="#94c7a1"/>
<path d="M843.2,670.3L851.3,684.1L835.1,684.1Z" fill="#94c7a1"/>
<path d="M826.3,675.9L834.4,689.7L818.2,689.7Z" fill="#94c7a1"/>
<path d="M868.4,675.9L876.5,689.7L860.3,689.7Z" fill="#94c7a1"/>
<path d="M853.1,708.5L861.2,722.3L845.0,722.3Z" fill="#94c7a1"/>
<path d="M878.9,668.5L887.0,682.3L870.8,682.3Z" fill="#94c7a1"/>
<circle cx="921.3" cy="790.3" r="6.1" fill="#94c7a1"/>
<circle cx="870.5" cy="908.1" r="6.1" fill="#94c7a1"/>
<circle cx="931.9" cy="902.8" r="6.1" fill="#94c7a1"/>
<circle cx="900.9" cy="928.5" r="6.1" fill="#94c7a1"/>
<circle cx="914.5" cy="936.3" r="6.1" fill="#94c7a1"/>
<path d="M882.3,664.1L890.4,677.9L874.2,677.9Z" fill="#88c098"/>
<path d="M928.2,691.4L936.3,705.2L920.1,705.2Z" fill="#88c098"/>
<path d="M914.5,697.6L922.6,711.4L906.4,711.4Z" fill="#88c098"/>
<path d="M866.2,698.8L874.3,712.6L858.1,712.6Z" fill="#88c098"/>
<circle cx="827.8" cy="764.9" r="6.1" fill="#88c098"/>
<circle cx="839.6" cy="786.0" r="6.1" fill="#88c098"/>
<circle cx="840.2" cy="799.6" r="6.1" fill="#88c098"/>
<circle cx="1017.1" cy="857.9" r="6.1" fill="#88c098"/>
<circle cx="956.8" cy="867.1" r="6.1" fill="#88c098"/>
<circle cx="877.1" cy="918.3" r="6.1" fill="#88c098"/>
<circle cx="822.6" cy="1003.6" r="6.1" fill="#88c098"/>
<path d="M916.4,646.1L924.5,659.9L908.3,659.9Z" fill="#7cb990"/>
<path d="M930.6,643.7L938.7,657.5L922.5,657.5Z" fill="#7cb990"/>
<path d="M936.8,664.1L944.9,677.9L928.7,677.9Z" fill="#7cb990"/>
<path d="M825.9,676.5L834.0,690.3L817.8,690.3Z" fill="#7cb990"/>
<path d="M846.4,692.6L854.5,706.4L838.3,706.4Z" fill="#7cb990"/>
<path d="M889.7,692.6L897.8,706.4L881.6,706.4Z" fill="#7cb990"/>
<path d="M928.2,708.1L936.3,721.9L920.1,721.9Z" fill="#7cb990"/>
<path d="M855.0,718.0L863.1,731.8L846.9,731.8Z" fill="#7cb990"/>
<path d="M886.0,718.0L894.1,731.8L877.9,731.8Z" fill="#7cb990"/>
<path d="M962.5,696.8L970.6,710.6L954.4,710.6Z" fill="#7cb990"/>
<path d="M949.2,736.6L957.3,750.4L941.1,750.4Z" fill="#7cb990"/>
<circle cx="1017.1" cy="750.9" r="6.1" fill="#7cb990"/>
<circle cx="842.7" cy="795.9" r="6.1" fill="#7cb990"/>
<circle cx="849.1" cy="823.8" r="6.1" fill="#7cb990"/>
<circle cx="925.1" cy="819.4" r="6.1" fill="#7cb990"/>
<circle cx="962.2" cy="807.0" r="6.1" fill="#7cb990"/>
<circle cx="822.6" cy="970.3" r="6.1" fill="#7cb990"/>
<path d="M926.9,662.2L935.0,676.0L918.8,676.0Z" fill="#6fb287"/>
<path d="M884.2,687.0L892.3,700.8L876.1,700.8Z" fill="#6fb287"/>
<path d="M900.9,695.1L909.0,708.9L892.8,708.9Z" fill="#6fb287"/>
<circle cx="869.9" cy="725.5" r="6.1" fill="#6fb287"/>
<circle cx="835.2" cy="730.5" r="6.1" fill="#6fb287"/>
<path d="M925.1,724.2L933.2,738.0L917.0,738.0Z" fill="#6fb287"/>
<path d="M840.2,734.1L848.3,747.9L832.1,747.9Z" fill="#6fb287"/>
<path d="M897.2,737.2L905.3,751.0L889.1,751.0Z" fill="#6fb287"/>
<path d="M925.1,734.7L933.2,748.5L917.0,748.5Z" fill="#6fb287"/>
<circle cx="937.4" cy="737.3" r="6.1" fill="#6fb287"/>
<circle cx="840.2" cy="776.7" r="6.1" fill="#6fb287"/>
<circle cx="870.5" cy="798.4" r="6.1" fill="#6fb287"/>
<circle cx="897.4" cy="825.6" r="6.1" fill="#6fb287"/>
<circle cx="913.3" cy="837.8" r="6.1" fill="#6fb287"/>
<circle cx="860.2" cy="850.2" r="6.1" fill="#6fb287"/>
<circle cx="936.8" cy="868.8" r="6.1" fill="#6fb287"/>
<circle cx="945.4" cy="788.5" r="6.1" fill="#6fb287"/>
<circle cx="822.6" cy="985.8" r="6.1" fill="#6fb287"/>
<path d="M949.4,896.9L957.5,910.7L941.3,910.7Z" fill="#6fb287"/>
<path d="M892.2,625.1L900.3,638.9L884.1,638.9Z" fill="#61aa7e"/>
<path d="M907.7,636.3L915.8,650.1L899.6,650.1Z" fill="#61aa7e"/>
<path d="M860.0,657.3L868.1,671.1L851.9,671.1Z" fill="#61aa7e"/>
<path d="M855.0,661.0L863.1,674.8L846.9,674.8Z" fill="#61aa7e"/>
<path d="M904.6,682.7L912.7,696.5L896.5,696.5Z" fill="#61aa7e"/>
<circle cx="863.7" cy="693.9" r="6.1" fill="#61aa7e"/>
<circle cx="849.5" cy="743.5" r="6.1" fill="#61aa7e"/>
<circle cx="832.1" cy="765.5" r="6.1" fill="#61aa7e"/>
<circle cx="885.4" cy="805.8" r="6.1" fill="#61aa7e"/>
<circle cx="874.3" cy="812.0" r="6.1" fill="#61aa7e"/>
<circle cx="883.8" cy="837.8" r="6.1" fill="#61aa7e"/>
<circle cx="969.6" cy="800.8" r="6.1" fill="#61aa7e"/>
<circle cx="822.6" cy="998.2" r="6.1" fill="#61aa7e"/>
<path d="M839.6,636.8L847.7,650.6L831.5,650.6Z" fill="#54a275"/>
<path d="M848.8,631.4L856.9,645.2L840.7,645.2Z" fill="#54a275"/>
<path d="M863.5,631.1L871.6,644.9L855.4,644.9Z" fill="#54a275"/>
<path d="M870.5,631.6L878.6,645.4L862.4,645.4Z" fill="#54a275"/>
<path d="M929.1,636.3L937.2,650.1L921.0,650.1Z" fill="#54a275"/>
<path d="M892.2,636.8L900.3,650.6L884.1,650.6Z" fill="#54a275"/>
<path d="M884.8,642.4L892.9,656.2L876.7,656.2Z" fill="#54a275"/>
<path d="M845.1,644.3L853.2,658.1L837.0,658.1Z" fill="#54a275"/>
<path d="M908.3,676.5L916.4,690.3L900.2,690.3Z" fill="#54a275"/>
<path d="M925.7,677.1L933.8,690.9L917.6,690.9Z" fill="#54a275"/>
<circle cx="835.8" cy="693.9" r="6.1" fill="#54a275"/>
<path d="M920.7,688.9L928.8,702.7L912.6,702.7Z" fill="#54a275"/>
<circle cx="889.1" cy="712.5" r="6.1" fill="#54a275"/>
<circle cx="840.2" cy="715.0" r="6.1" fill="#54a275"/>
<circle cx="847.0" cy="714.4" r="6.1" fill="#54a275"/>
<circle cx="881.7" cy="744.1" r="6.1" fill="#54a275"/>
<circle cx="942.3" cy="737.3" r="6.1" fill="#54a275"/>
<circle cx="894.7" cy="766.8" r="6.1" fill="#54a275"/>
<circle cx="881.1" cy="804.6" r="6.1" fill="#54a275"/>
<circle cx="860.2" cy="817.6" r="6.1" fill="#54a275"/>
<circle cx="836.2" cy="823.2" r="6.1" fill="#54a275"/>
<circle cx="920.1" cy="779.2" r="6.1" fill="#54a275"/>
<circle cx="910.8" cy="805.8" r="6.1" fill="#54a275"/>
<circle cx="931.6" cy="886.1" r="6.1" fill="#54a275"/>
<circle cx="945.4" cy="766.2" r="6.1" fill="#54a275"/>
<circle cx="964.0" cy="767.4" r="6.1" fill="#54a275"/>
<circle cx="822.6" cy="964.8" r="6.1" fill="#54a275"/>
<path d="M877.3,643.0L885.4,656.8L869.2,656.8Z" fill="#469a6b"/>
<path d="M868.7,659.1L876.8,672.9L860.6,672.9Z" fill="#469a6b"/>
<path d="M857.5,666.0L865.6,679.8L849.4,679.8Z" fill="#469a6b"/>
<path d="M910.8,659.8L918.9,673.6L902.7,673.6Z" fill="#469a6b"/>
<circle cx="850.1" cy="731.1" r="6.1" fill="#469a6b"/>
<circle cx="856.3" cy="745.4" r="6.1" fill="#469a6b"/>
<path d="M869.9,743.4L878.0,757.2L861.8,757.2Z" fill="#469a6b"/>
<circle cx="883.5" cy="764.9" r="6.1" fill="#469a6b"/>
<path d="M899.7,766.7L907.8,780.5L891.6,780.5Z" fill="#469a6b"/>
<circle cx="850.1" cy="784.1" r="6.1" fill="#469a6b"/>
<path d="M857.5,787.1L865.6,800.9L849.4,800.9Z" fill="#469a6b"/>
<circle cx="860.0" cy="801.5" r="6.1" fill="#469a6b"/>
<circle cx="912.3" cy="905.3" r="6.1" fill="#469a6b"/>
<circle cx="871.8" cy="945.6" r="6.1" fill="#469a6b"/>
<circle cx="822.6" cy="966.0" r="6.1" fill="#469a6b"/>
<path d="M993.1,902.0L1001.2,915.8L985.0,915.8Z" fill="#469a6b"/>
<path d="M894.1,648.0L902.2,661.8L886.0,661.8Z" fill="#379261"/>
<path d="M847.6,670.9L855.7,684.7L839.5,684.7Z" fill="#379261"/>
<path d="M825.3,711.2L833.4,725.0L817.2,725.0Z" fill="#379261"/>
<circle cx="936.2" cy="708.8" r="6.1" fill="#379261"/>
<circle cx="822.8" cy="737.3" r="6.1" fill="#379261"/>
<circle cx="925.7" cy="752.8" r="6.1" fill="#379261"/>
<circle cx="840.2" cy="752.8" r="6.1" fill="#379261"/>
<circle cx="952.3" cy="752.8" r="6.1" fill="#379261"/>
<path d="M866.2,755.5L874.3,769.3L858.1,769.3Z" fill="#379261"/>
<path d="M860.0,772.9L868.1,786.7L851.9,786.7Z" fill="#379261"/>
<path d="M873.0,779.7L881.1,793.5L864.9,793.5Z" fill="#379261"/>
<circle cx="1000.2" cy="760.2" r="6.1" fill="#379261"/>
<path d="M860.6,641.3L868.7,655.1L852.5,655.1Z" fill="#298957"/>
<path d="M830.9,669.7L839.0,683.5L822.8,683.5Z" fill="#298957"/>
<path d="M873.6,703.8L881.7,717.6L865.5,717.6Z" fill="#298957"/>
<circle cx="829.6" cy="723.7" r="6.1" fill="#298957"/>
<circle cx="873.6" cy="729.2" r="6.1" fill="#298957"/>
<path d="M908.3,737.8L916.4,751.6L900.2,751.6Z" fill="#298957"/>
<path d="M909.6,746.5L917.7,760.3L901.5,760.3Z" fill="#298957"/>
<circle cx="908.9" cy="758.1" r="6.1" fill="#298957"/>
<circle cx="843.9" cy="768.6" r="6.1" fill="#298957"/>
<circle cx="907.1" cy="774.8" r="6.1" fill="#298957"/>
<path d="M931.3,771.0L939.4,784.8L923.2,784.8Z" fill="#298957"/>
<circle cx="822.6" cy="978.0" r="6.1" fill="#298957"/>
<path d="M836.7,652.9L844.8,666.7L828.6,666.7Z" fill="#1a804d"/>
<path d="M871.8,664.7L879.9,678.5L863.7,678.5Z" fill="#1a804d"/>
<path d="M918.2,665.3L926.3,679.1L910.1,679.1Z" fill="#1a804d"/>
<path d="M868.1,732.3L876.2,746.1L860.0,746.1Z" fill="#1a804d"/>
<path d="M850.1,742.8L858.2,756.6L842.0,756.6Z" fill="#1a804d"/>
<path d="M889.7,737.8L897.8,751.6L881.6,751.6Z" fill="#1a804d"/>
<circle cx="856.3" cy="751.5" r="6.1" fill="#1a804d"/>
<circle cx="884.8" cy="754.0" r="6.1" fill="#1a804d"/>
<circle cx="874.9" cy="764.3" r="6.1" fill="#1a804d"/>
<path d="M900.9,774.1L909.0,787.9L892.8,787.9Z" fill="#1a804d"/>
<path d="M915.1,810.1L923.2,823.9L907.0,823.9Z" fill="#1a804d"/>
<circle cx="853.2" cy="770.5" r="6.1" fill="#127c48"/>
<circle cx="874.9" cy="776.7" r="6.1" fill="#127c48"/>
<circle cx="882.3" cy="776.7" r="6.1" fill="#127c48"/>
<circle cx="877.3" cy="794.7" r="6.1" fill="#127c48"/>
<circle cx="884.8" cy="794.7" r="6.1" fill="#127c48"/>
<circle cx="824.7" cy="1017.2" r="6.1" fill="#127c48"/>
</g>
<rect x="804.2" y="615.4" width="401.29999999999995" height="420.80000000000007" fill="none" stroke="#000" stroke-width="2.7"/>
<line x1="792.70" y1="1028.60" x2="804.20" y2="1028.60" stroke="#000" stroke-width="2.4" />
<text x="785.00" y="1037.40" font-size="28" text-anchor="end" >0</text>
<line x1="792.70" y1="933.74" x2="804.20" y2="933.74" stroke="#000" stroke-width="2.4" />
<text x="785.00" y="942.54" font-size="28" text-anchor="end" >20</text>
<line x1="792.70" y1="838.88" x2="804.20" y2="838.88" stroke="#000" stroke-width="2.4" />
<text x="785.00" y="847.68" font-size="28" text-anchor="end" >40</text>
<line x1="792.70" y1="744.02" x2="804.20" y2="744.02" stroke="#000" stroke-width="2.4" />
<text x="785.00" y="752.82" font-size="28" text-anchor="end" >60</text>
<line x1="792.70" y1="649.16" x2="804.20" y2="649.16" stroke="#000" stroke-width="2.4" />
<text x="785.00" y="657.96" font-size="28" text-anchor="end" >80</text>
<line x1="822.10" y1="1036.20" x2="822.10" y2="1046.20" stroke="#000" stroke-width="2.6" />
<text x="822.10" y="1068.20" font-size="28" text-anchor="middle" >0</text>
<line x1="907.40" y1="1036.20" x2="907.40" y2="1046.20" stroke="#000" stroke-width="2.6" />
<text x="907.40" y="1068.20" font-size="28" text-anchor="middle" >1</text>
<line x1="992.70" y1="1036.20" x2="992.70" y2="1046.20" stroke="#000" stroke-width="2.6" />
<text x="992.70" y="1068.20" font-size="28" text-anchor="middle" >2</text>
<line x1="1078.00" y1="1036.20" x2="1078.00" y2="1046.20" stroke="#000" stroke-width="2.6" />
<text x="1078.00" y="1068.20" font-size="28" text-anchor="middle" >3</text>
<line x1="1163.30" y1="1036.20" x2="1163.30" y2="1046.20" stroke="#000" stroke-width="2.6" />
<text x="1163.30" y="1068.20" font-size="28" text-anchor="middle" >4</text>
<text x="1017.60" y="1103.70" font-size="32.3" text-anchor="middle" >Total CFU/ml</text>
<text x="744.60" y="823.90" font-size="32.15" text-anchor="middle" transform="rotate(-90 744.60 823.90)" >Degradation percent</text>
<defs><linearGradient id="gE" x1="0" y1="1" x2="0" y2="0"><stop offset="0" stop-color="#d4eccc"/><stop offset="1" stop-color="#127c48"/></linearGradient></defs>
<rect x="1242.3" y="634.3" width="19.200000000000045" height="383.5" fill="url(#gE)" stroke="#000" stroke-width="2.3"/>
<line x1="1261.50" y1="1017.80" x2="1270.10" y2="1017.80" stroke="#000" stroke-width="2.2" />
<text x="1277.50" y="1029.20" font-size="28" text-anchor="start" >0</text>
<line x1="1261.50" y1="911.20" x2="1270.10" y2="911.20" stroke="#000" stroke-width="2.2" />
<text x="1277.50" y="921.20" font-size="28" text-anchor="start" >5</text>
<line x1="1261.50" y1="804.50" x2="1270.10" y2="804.50" stroke="#000" stroke-width="2.2" />
<text x="1277.50" y="813.50" font-size="28" text-anchor="start" >10</text>
<line x1="1261.50" y1="698.30" x2="1270.10" y2="698.30" stroke="#000" stroke-width="2.2" />
<text x="1277.50" y="705.20" font-size="28" text-anchor="start" >15</text>
<text x="1316.00" y="832.00" font-size="34.5" text-anchor="middle" transform="rotate(90 1316.00 832.00)" >Rounds</text>
<text x="0" y="0" font-size="45" text-anchor="start" transform="translate(708.50 653.90) scale(1 1.05)">E</text>
<text x="1197.30" y="1073.50" font-size="29.7" text-anchor="start" >x10</text>
<text x="1245.50" y="1063.30" font-size="17.5" text-anchor="start" >9</text>
</svg></body></html>
